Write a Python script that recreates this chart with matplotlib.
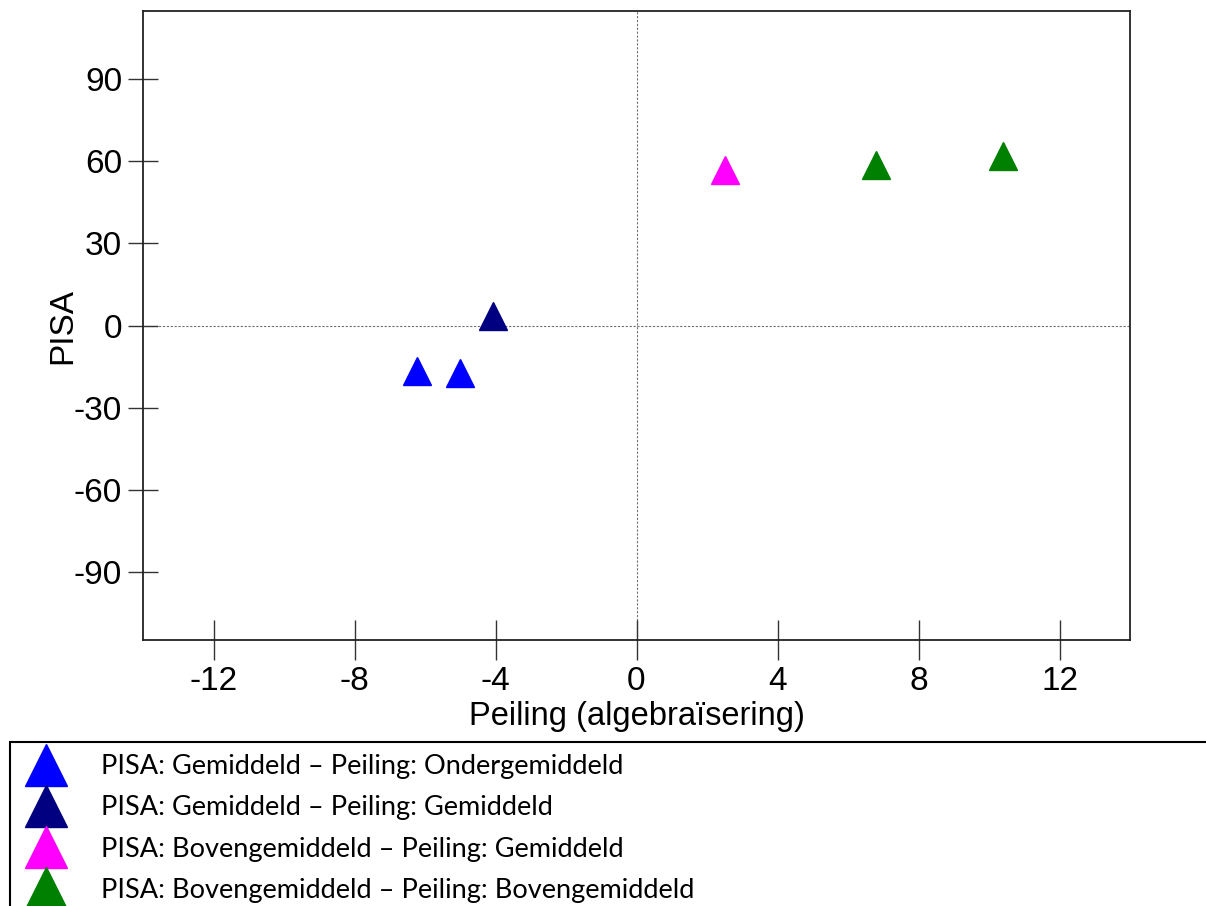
import matplotlib
matplotlib.use("Agg")
import matplotlib.pyplot as plt
from matplotlib.lines import Line2D
from matplotlib.patches import Rectangle

plt.rcParams["axes.unicode_minus"] = False

# Groups: peiling score (x) vs PISA score (y)
labels = [
    "PISA: Gemiddeld \u2013 Peiling: Ondergemiddeld",
    "PISA: Gemiddeld \u2013 Peiling: Gemiddeld",
    "PISA: Bovengemiddeld \u2013 Peiling: Gemiddeld",
    "PISA: Bovengemiddeld \u2013 Peiling: Bovengemiddeld",
]
colors = ["#0000FF", "#000080", "#FF00FF", "#008000"]
peiling = [[-6.22, -5.0], [-4.07], [2.51], [6.80, 10.41]]
pisa = [[-16.5, -17.4], [3.5], [56.8], [58.7, 61.9]]

x_ticks = [-12, -8, -4, 0, 4, 8, 12]
y_ticks = [-90, -60, -30, 0, 30, 60, 90]

W, H = 1206, 906
fig = plt.figure(figsize=(W / 100, H / 100), dpi=100)
ax = fig.add_axes([143 / W, 1 - 640 / H, (1130 - 143) / W, (640 - 11) / H])

ax.axhline(0, color="#707070", lw=0.8, ls=(0, (2, 1.5)), zorder=1)
ax.axvline(0, color="#707070", lw=0.8, ls=(0, (2, 1.5)), zorder=1)

for xs, ys, c in zip(peiling, pisa, colors):
    ax.plot(xs, ys, ls="none", marker="^", ms=19.5, color=c, mec=c, zorder=3)

ax.set_xlim(-14, 14)
ax.set_ylim(-115, 115)
ax.set_xticks(x_ticks)
ax.set_yticks(y_ticks)

for s in ax.spines.values():
    s.set_linewidth(1.3)
    s.set_color("#222222")

tick_font = "Liberation Sans"
ax.tick_params(axis="x", direction="inout", length=29, width=1, color="#333333",
               pad=4, labelsize=24)
ax.tick_params(axis="y", direction="inout", length=22, width=1, color="#333333",
               pad=4, labelsize=24)
for lab in ax.get_xticklabels() + ax.get_yticklabels():
    lab.set_fontfamily(tick_font)

ax.set_xlabel("Peiling (algebra\u00efsering)", fontsize=23.5, family=tick_font, labelpad=3)
ax.set_ylabel("PISA", fontsize=24, family=tick_font, labelpad=-3)

# Legend below the plot, framed by a box that runs off the page
fig.add_artist(Rectangle((9.5 / W, 1 - 1000 / H), 1300 / W, (1000 - 742) / H,
                         transform=fig.transFigure, fill=False, lw=1.5,
                         edgecolor="black"))
handles = [Line2D([], [], ls="none", marker="^", ms=30, color=c, mec=c) for c in colors]
fig.legend(handles, labels, loc="upper left", bbox_to_anchor=(14 / W, 1 - 754 / H),
           frameon=False, prop={"family": "Lato", "size": 19.5}, handlelength=2.37,
           handletextpad=0.85, labelspacing=0.60, borderpad=0, borderaxespad=0)

fig.savefig("out.png", dpi=100)
